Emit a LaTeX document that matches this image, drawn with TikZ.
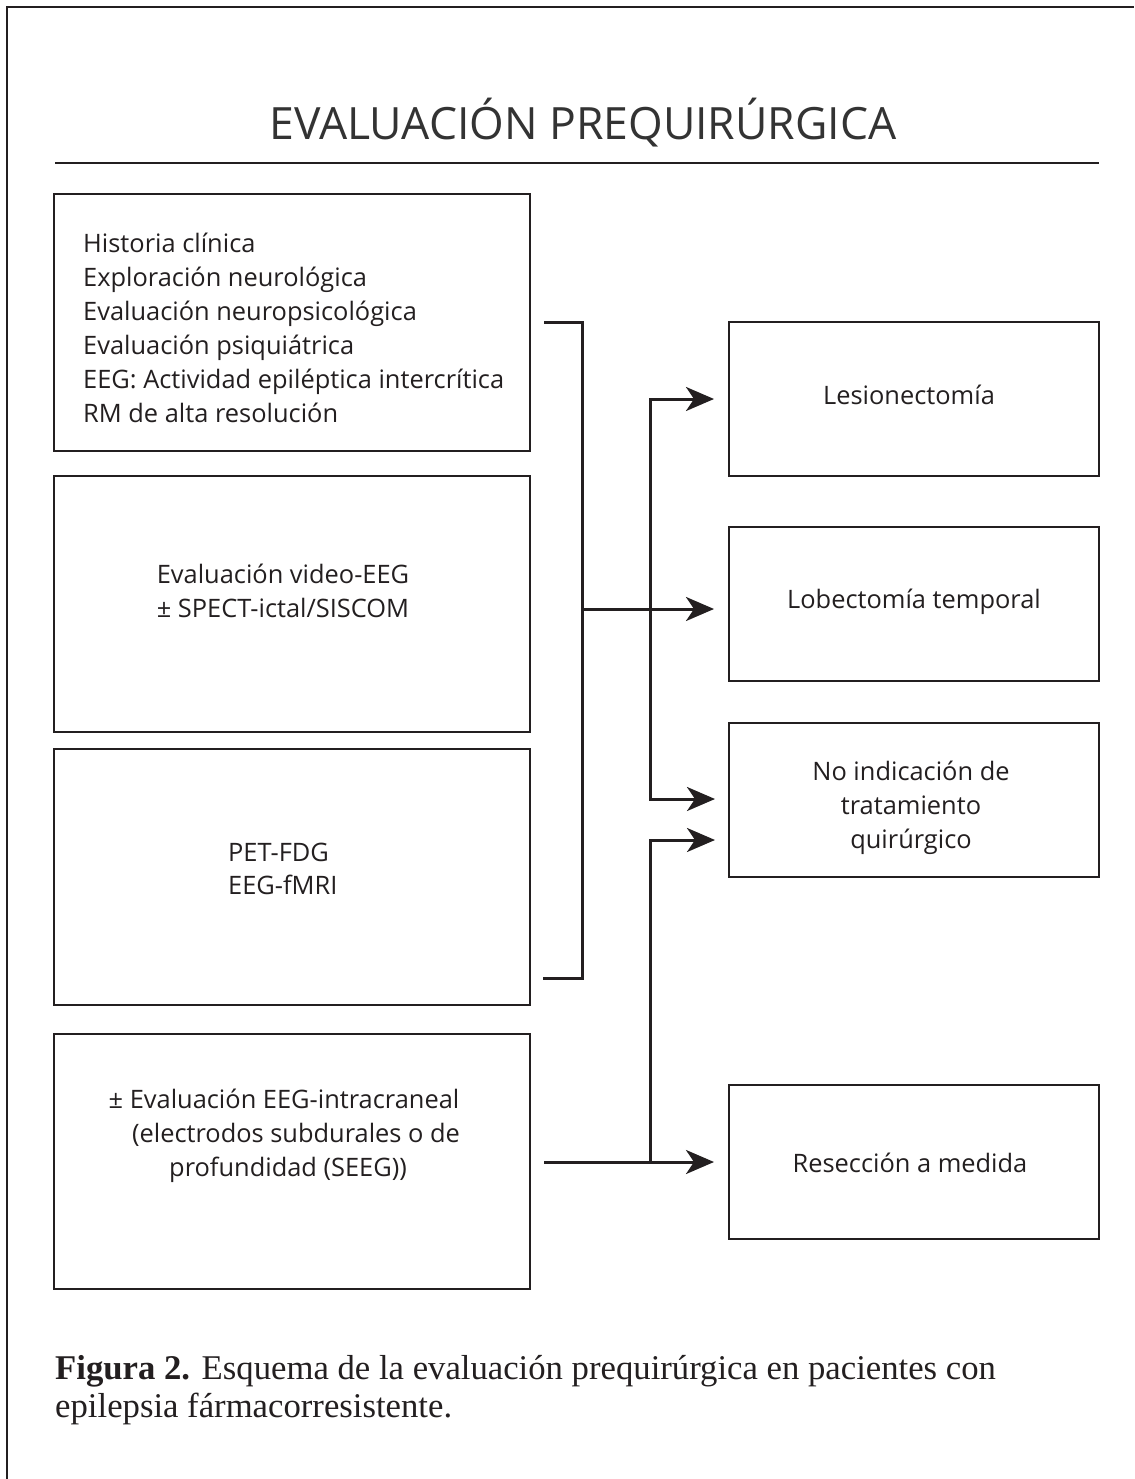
\documentclass[tikz,border=0pt]{standalone}
\usepackage{fontspec}
\setmainfont{Open Sans}
\newfontfamily\capfont{Liberation Serif}
\usetikzlibrary{arrows.meta,calc}
\definecolor{ink}{HTML}{231F20}
\definecolor{titlegray}{HTML}{333333}
\begin{document}
\begin{tikzpicture}[x=1pt,y=-1pt,
  box/.style={draw=ink, line width=2pt, minimum width=476pt, minimum height=256pt, inner sep=0pt},
  rbox/.style={draw=ink, line width=2pt, minimum width=370pt, minimum height=154pt, inner sep=0pt},
  conn/.style={draw=ink, line width=3pt},
  tip/.style={-{Stealth[length=28pt,width=24pt,inset=8pt]}},
  tips/.style={{Stealth[length=28pt,width=24pt,inset=8pt]}-{Stealth[length=28pt,width=24pt,inset=8pt]}},
  body/.style={font=\fontsize{25.4}{34}\selectfont, text=ink, inner sep=0pt},
  capt/.style={font=\capfont\fontsize{34.7}{38}\selectfont, text=ink, inner sep=0pt, anchor=base west},
]
\useasboundingbox (0,0) rectangle (1134,1479);
\fill[white] (0,0) rectangle (1134,1479);
\draw[ink, line width=2.5pt] (7,1479) -- (7,7) -- (1134,7);

% title
\node[anchor=base, inner sep=0pt, font=\fontsize{44.5}{54}\selectfont, text=titlegray] (title) at (583,140) {EVALUACIÓN PREQUIRÚRGICA};
\draw[ink, line width=1.2pt] (55,163) -- (1099,163);

% left boxes
\node[box, minimum height=257pt] (L1) at (292,322.5) {};
\node[box] (L2) at (292,604) {};
\node[box] (L3) at (292,877) {};
\node[box, minimum height=255pt] (L4) at (292,1161.5) {};

\foreach \t [count=\i] in {Historia clínica, Exploración neurológica, Evaluación neuropsicológica, Evaluación psiquiátrica, EEG: Actividad epiléptica intercrítica, RM de alta resolución}
  \node[body, anchor=base west] (L1t\i) at (83,{252+34*(\i-1)}) {\t};

\node[body, anchor=base] (L2t1) at (283,583) {Evaluación video-EEG};
\node[body, anchor=base] (L2t2) at (283,617) {± SPECT-ictal/SISCOM};

\node[body, anchor=base west] (L3t1) at (228,861) {PET-FDG};
\node[body, anchor=base west] (L3t2) at (228,894) {EEG-fMRI};

\node[body, anchor=base] (L4t1) at (284,1108) {± Evaluación EEG-intracraneal};
\node[body, anchor=base] (L4t2) at (296,1142) {(electrodos subdurales o de};
\node[body, anchor=base] (L4t3) at (288,1176) {profundidad (SEEG))};

% right boxes
\node[rbox] (R1) at (914,399) {};
\node[rbox] (R2) at (914,604) {};
\node[rbox] (R3) at (914,800) {};
\node[rbox] (R4) at (914,1162) {};

\node[body, anchor=base] (R1t) at (909,404) {Lesionectomía};
\node[body, anchor=base] (R2t) at (914,608) {Lobectomía temporal};
\node[body, anchor=base] (R3t1) at (911,780) {No indicación de};
\node[body, anchor=base] (R3t2) at (911,814) {tratamiento};
\node[body, anchor=base] (R3t3) at (911,848) {quirúrgico};
\node[body, anchor=base] (R4t) at (910,1172) {Resección a medida};

% connectors
\coordinate (bt) at ($(L1.east)+(13,0)$);
\coordinate (bb) at (543,978);
\coordinate (bc) at (582,978);
\coordinate (bm) at (582,609);
\coordinate (a2) at ($(R2.west)+(-14,5)$);
\coordinate (a1) at ($(R1.west)+(-14,0)$);
\coordinate (a3) at (715,799);
\coordinate (a3b) at (715,840);
\coordinate (a4) at ($(R4.west)+(-14,0)$);
\coordinate (s4) at ($(L4.east)+(13,0.5)$);
\coordinate (j4) at (650,1162);

\draw[conn] (bt) -| (bc) -- (bb);
\draw[conn, tip] (bm) -- (a2);
\draw[conn, tips] (a1) -| (650,799) -- (a3);
\draw[conn, tip] (s4) -- (a4);
\draw[conn, tip] (j4) |- (a3b);

% caption
\node[capt] (cap1) at (55,1379) {\textbf{Figura 2.} Esquema de la evaluación prequirúrgica en pacientes con};
\node[capt] (cap2) at (55,1417) {epilepsia fármacorresistente.};
\end{tikzpicture}
\end{document}
